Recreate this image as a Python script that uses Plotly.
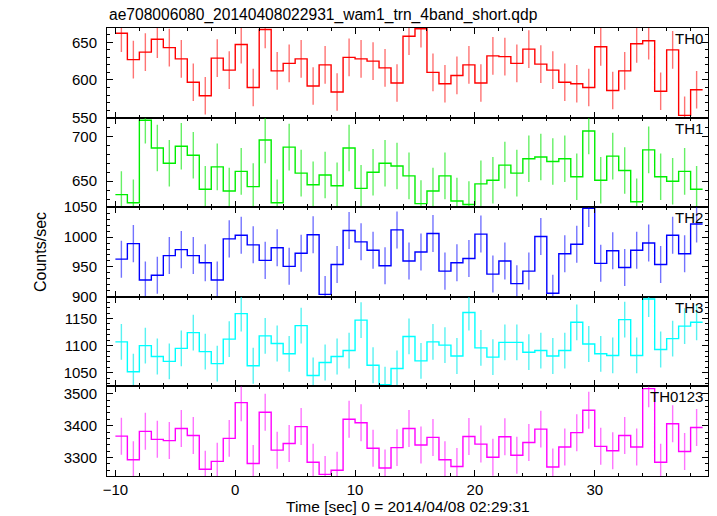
import plotly.graph_objects as go
from plotly.subplots import make_subplots

TITLE = "ae708006080_20140408022931_wam1_trn_4band_short.qdp"
X_TITLE = "Time [sec] 0 = 2014/04/08 02:29:31"
Y_TITLE = "Counts/sec"

# bin centres [sec]
TIME = [-9.5, -8.5, -7.5, -6.5, -5.5, -4.5, -3.5, -2.5, -1.5, -0.5,
        0.5, 1.5, 2.5, 3.5, 4.5, 5.5, 6.5, 7.5, 8.5, 9.5,
        10.5, 11.5, 12.5, 13.5, 14.5, 15.5, 16.5, 17.5, 18.5, 19.5,
        20.5, 21.5, 22.5, 23.5, 24.5, 25.5, 26.5, 27.5, 28.5, 29.5,
        30.5, 31.5, 32.5, 33.5, 34.5, 35.5, 36.5, 37.5, 38.5]
BIN_WIDTH = 1.0

TH0 = [662, 627, 637, 654, 643, 628, 597, 579, 629, 613,
       647, 590, 667, 612, 622, 628, 592, 620, 584, 630,
       628, 625, 616, 596, 658, 668, 610, 595, 606, 620,
       596, 632, 631, 622, 641, 621, 613, 597, 595, 590,
       644, 586, 612, 648, 652, 585, 640, 553, 587]
TH1 = [635, 626, 718, 687, 670, 689, 679, 641, 666, 639,
       661, 644, 696, 626, 688, 659, 646, 657, 645, 687,
       642, 660, 670, 667, 656, 625, 639, 656, 628, 624,
       647, 651, 668, 659, 675, 677, 672, 675, 655, 706,
       651, 678, 662, 627, 685, 655, 650, 661, 641]
TH2 = [963, 989, 928, 936, 969, 979, 969, 957, 928, 997,
       1003, 987, 961, 982, 951, 973, 1004, 904, 954, 1011,
       992, 978, 952, 1012, 960, 975, 1006, 943, 957, 964,
       1005, 938, 960, 922, 943, 1001, 906, 972, 988, 1048,
       956, 977, 949, 978, 990, 954, 1003, 972, 1022]
TH3 = [1107, 1052, 1100, 1080, 1071, 1095, 1124, 1089, 1067, 1112,
       1159, 1063, 1118, 1104, 1085, 1137, 1045, 1069, 1080, 1091,
       1147, 1064, 1028, 1058, 1117, 1072, 1107, 1101, 1081, 1161,
       1096, 1079, 1106, 1106, 1088, 1091, 1081, 1091, 1143, 1103,
       1085, 1082, 1148, 1082, 1186, 1093, 1113, 1136, 1143]
TH0123 = [3367, 3293, 3382, 3357, 3353, 3391, 3369, 3263, 3288, 3360,
          3472, 3281, 3442, 3323, 3344, 3397, 3285, 3247, 3260, 3420,
          3409, 3329, 3267, 3331, 3391, 3339, 3363, 3293, 3272, 3366,
          3342, 3301, 3365, 3307, 3347, 3389, 3270, 3333, 3378, 3448,
          3335, 3321, 3369, 3333, 3516, 3285, 3406, 3319, 3394]

# approximate 1-sigma error per panel (counts/sec)
ERR_TH0 = 25
ERR_TH1 = 26
ERR_TH2 = 31
ERR_TH3 = 33
ERR_TH0123 = 58

PANEL_NAMES = ["TH0", "TH1", "TH2", "TH3", "TH0123"]
PANEL_DATA = [TH0, TH1, TH2, TH3, TH0123]
PANEL_ERR = [ERR_TH0, ERR_TH1, ERR_TH2, ERR_TH3, ERR_TH0123]

COLORS = ["#ff0000", "#00ee00", "#0000ff", "#00ffff", "#ff00ff"]
ERR_COLORS = ["rgba(255,0,0,0.55)", "rgba(0,230,0,0.6)", "rgba(0,0,255,0.55)",
              "rgba(0,235,235,0.65)", "rgba(255,0,255,0.55)"]
Y_RANGES = [[550, 669], [621, 721], [900, 1050], [1025, 1190], [3242, 3523]]
Y_DTICK = [50, 50, 50, 50, 100]
Y_MINOR = [10, 10, 10, 10, 20]
X_RANGE = [-10.7, 39.45]

FONT = "Liberation Sans, Arial, Helvetica, sans-serif"

fig = make_subplots(rows=5, cols=1, shared_xaxes=True, vertical_spacing=0)

for i, (name, vals, err) in enumerate(zip(PANEL_NAMES, PANEL_DATA, PANEL_ERR)):
    row = i + 1
    edges = [t - BIN_WIDTH / 2 for t in TIME] + [TIME[-1] + BIN_WIDTH / 2]
    ys = list(vals) + [vals[-1]]
    fig.add_trace(go.Scatter(
        x=TIME, y=vals, mode="markers",
        marker=dict(size=1, color="rgba(0,0,0,0)"),
        error_y=dict(type="constant", value=err, color=ERR_COLORS[i],
                     thickness=1.4, width=0),
        hoverinfo="skip", showlegend=False), row=row, col=1)
    fig.add_trace(go.Scatter(
        x=edges, y=ys, mode="lines",
        line=dict(shape="hv", color=COLORS[i], width=1.4),
        showlegend=False), row=row, col=1)

    fig.update_yaxes(
        row=row, col=1, range=Y_RANGES[i], dtick=Y_DTICK[i], tick0=0,
        ticks="inside", ticklen=6, tickwidth=1, tickcolor="black",
        minor=dict(dtick=Y_MINOR[i], tick0=0, ticks="inside", ticklen=3,
                   tickcolor="black", showgrid=False),
        showline=True, linecolor="black", linewidth=1, mirror="ticks",
        showgrid=False, zeroline=False,
        tickfont=dict(family=FONT, size=15, color="black"),
        ticklabelstandoff=6)
    fig.update_xaxes(
        row=row, col=1, range=X_RANGE, dtick=10, tick0=0,
        ticks="inside", ticklen=6, tickwidth=1, tickcolor="black",
        minor=dict(dtick=2, tick0=0, ticks="inside", ticklen=3,
                   tickcolor="black", showgrid=False),
        showline=True, linecolor="black", linewidth=1, mirror="ticks",
        showgrid=False, zeroline=False,
        tickfont=dict(family=FONT, size=15, color="black"))

    dom = fig.layout["yaxis" if row == 1 else f"yaxis{row}"].domain
    fig.add_annotation(text=name, xref="paper", yref="paper", x=1, y=dom[1],
                       xanchor="right", yanchor="top", xshift=-3, yshift=0,
                       showarrow=False,
                       font=dict(family=FONT, size=15, color="black"))

fig.add_annotation(text=TITLE, xref="paper", yref="paper", x=0, y=1,
                   xanchor="left", yanchor="bottom", yshift=2, showarrow=False,
                   font=dict(family=FONT, size=15.6, color="black"))
fig.add_annotation(text=Y_TITLE, xref="paper", yref="paper", x=0, y=0.5,
                   xanchor="center", yanchor="middle", xshift=-67,
                   textangle=-90, showarrow=False,
                   font=dict(family=FONT, size=16, color="black"))
fig.add_annotation(text=X_TITLE, xref="paper", yref="paper", x=0.5, y=0,
                   xanchor="center", yanchor="top", yshift=-20, showarrow=False,
                   font=dict(family=FONT, size=15.5, color="black"))

fig.update_layout(width=717, height=516,
                  margin=dict(l=107, r=9, t=28, b=40),
                  paper_bgcolor="white", plot_bgcolor="white",
                  showlegend=False, font=dict(family=FONT))

fig.write_html("out.html",
               config={"displayModeBar": False},
               post_script="document.body.style.margin='0px';"
                           "document.body.style.overflow='hidden';")
